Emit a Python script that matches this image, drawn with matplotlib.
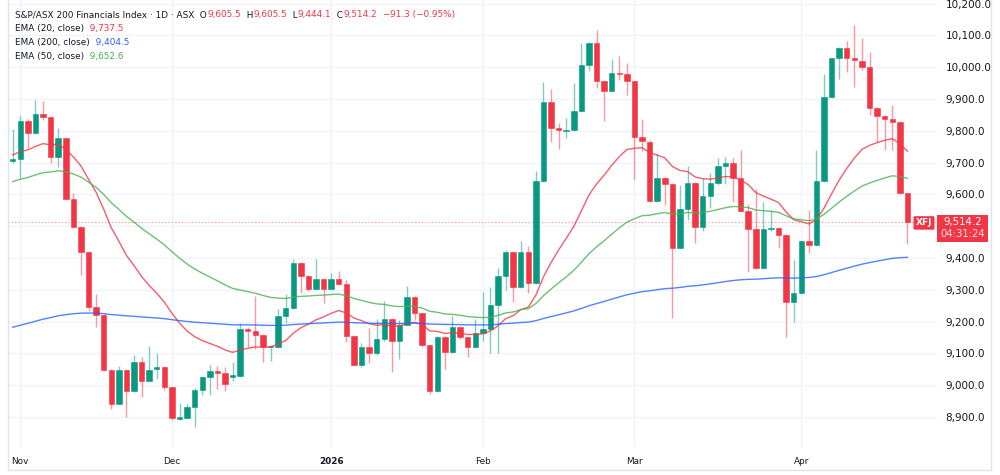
"""S&P/ASX 200 Financials (XFJ) daily candles with 20/50/200 EMAs, TradingView look."""

import matplotlib

matplotlib.use("Agg")
import matplotlib.pyplot as plt
import matplotlib.transforms as mtransforms
from matplotlib.lines import Line2D
from matplotlib.patches import Rectangle
import pandas as pd

UP = "#089981"
DOWN = "#F23645"
TEXT = "#131722"
GRID = "#f0f3fa"
FRAME = "#e0e3eb"

# OHLC, 31 Oct 2025 -> late Apr 2026 (one row per session)
opens = [
    9706, 9711, 9832, 9794, 9853, 9844, 9719, 9776, 9585, 9497,
    9420, 9245, 9222, 9048, 8941, 9048, 8983, 9073, 9014, 9050,
    9058, 8993, 8895, 8897, 8930, 8985, 9025, 9044, 9037, 9027,
    9029, 9178, 9170, 9157, 9119, 9119, 9218, 9243, 9383, 9343,
    9302, 9333, 9302, 9335, 9318, 9155, 9062, 9121, 9102, 9144,
    9207, 9140, 9190, 9278, 9226, 9125, 8981, 9151, 9104, 9182,
    9151, 9121, 9165, 9178, 9252, 9343, 9420, 9308, 9420, 9320,
    9643, 9891, 9808, 9800, 9803, 9863, 10006, 10077, 9958, 9926,
    9983, 9979, 9956, 9780, 9766, 9580, 9652, 9632, 9432, 9555,
    9637, 9496, 9595, 9635, 9689, 9698, 9652, 9547, 9490, 9368,
    9490, 9494, 9472, 9262, 9289, 9453, 9441, 9642, 9907, 10028,
    10059, 10030, 10019, 10001, 9873, 9848, 9837, 9827, 9605.5,
]
highs = [
    9805, 9845, 9838, 9897, 9894, 9848, 9808, 9778, 9603, 9500,
    9422, 9287, 9225, 9050, 9060, 9050, 9094, 9090, 9123, 9102,
    9060, 8995, 8943, 8941, 8990, 9030, 9062, 9060, 9058, 9073,
    9196, 9182, 9280, 9160, 9125, 9239, 9287, 9396, 9386, 9346,
    9396, 9336, 9352, 9358, 9331, 9157, 9132, 9180, 9209, 9266,
    9210, 9205, 9312, 9280, 9228, 9128, 9155, 9155, 9218, 9185,
    9153, 9207, 9293, 9310, 9368, 9425, 9423, 9454, 9437, 9675,
    9954, 9930, 9825, 9839, 9949, 10075, 10080, 10117, 9960, 10025,
    10035, 10012, 9958, 9836, 9770, 9729, 9655, 9635, 9630, 9689,
    9640, 9650, 9668, 9713, 9717, 9715, 9740, 9570, 9616, 9577,
    9551, 9497, 9475, 9394, 9458, 9551, 9740, 9978, 10030, 10062,
    10082, 10133, 10093, 10049, 9876, 9850, 9881, 9830, 9605.5,
]
lows = [
    9700, 9651, 9745, 9790, 9835, 9698, 9687, 9582, 9495, 9346,
    9234, 9184, 9045, 8924, 8940, 8899, 8980, 8962, 9012, 9018,
    8985, 8891, 8890, 8893, 8868, 8968, 8968, 8987, 8983, 9012,
    9027, 9121, 9113, 9073, 9075, 9117, 9196, 9240, 9289, 9295,
    9300, 9257, 9300, 9315, 9136, 9060, 9056, 9069, 9095, 9140,
    9042, 9083, 9188, 9205, 9120, 8972, 8978, 9050, 9100, 9145,
    9088, 9118, 9140, 9100, 9100, 9299, 9263, 9305, 9291, 9318,
    9640, 9766, 9742, 9776, 9800, 9860, 9989, 9934, 9831, 9924,
    9960, 9913, 9645, 9737, 9576, 9576, 9567, 9212, 9430, 9519,
    9448, 9486, 9556, 9630, 9633, 9577, 9545, 9357, 9365, 9365,
    9485, 9430, 9152, 9200, 9286, 9415, 9438, 9640, 9902, 9963,
    9986, 9939, 9990, 9850, 9766, 9740, 9740, 9600, 9444.1,
]
closes = [
    9710, 9832, 9794, 9853, 9844, 9719, 9776, 9585, 9497, 9420,
    9245, 9222, 9048, 8941, 9048, 8983, 9073, 9014, 9048, 9058,
    8993, 8897, 8900, 8930, 8985, 9025, 9045, 9037, 9003, 9031,
    9178, 9170, 9157, 9119, 9123, 9218, 9243, 9383, 9343, 9302,
    9333, 9302, 9333, 9318, 9155, 9062, 9121, 9102, 9144, 9207,
    9140, 9190, 9278, 9226, 9125, 8981, 9151, 9104, 9182, 9151,
    9121, 9165, 9178, 9253, 9343, 9420, 9308, 9420, 9320, 9643,
    9891, 9808, 9803, 9803, 9863, 10006, 10077, 9958, 9926, 9983,
    9979, 9956, 9780, 9767, 9580, 9652, 9632, 9432, 9555, 9637,
    9496, 9595, 9635, 9689, 9698, 9652, 9547, 9490, 9368, 9490,
    9494, 9473, 9262, 9289, 9454, 9441, 9642, 9907, 10028, 10059,
    10028, 10022, 10001, 9873, 9848, 9837, 9827, 9605.5, 9514.2,
]

# first session of each month on the x axis
month_ticks = [1, 21, 42, 62, 82, 104]
month_labels = ["Nov", "Dec", "2026", "Feb", "Mar", "Apr"]
price_levels = list(range(8900, 10201, 100))

# EMA values at the first visible candle (history before it is off-screen)
ema_specs = [
    (20, 9724, "#F23645", "9,737.5"),
    (200, 9182, "#2962FF", "9,404.5"),
    (50, 9640, "#4CAF50", "9,652.6"),
]


def ema(values: list[float], span: int, seed: float) -> pd.Series:
    """TradingView-style EMA of close, starting from a visible seed value."""
    s = pd.Series([seed] + list(values[1:]), dtype=float)
    return s.ewm(span=span, adjust=False).mean()


def draw_row(fig, x_px, y_px, segments, size):
    """Write coloured text pieces one after another on a single line."""
    renderer = fig.canvas.get_renderer()
    x = x_px
    for txt, color in segments:
        t = fig.text(x / W, 1 - y_px / H, txt, color=color, fontsize=size,
                     ha="left", va="center")
        x += t.get_window_extent(renderer).width


W, H = 1000, 475
fig = plt.figure(figsize=(W / 100, H / 100), dpi=100)
fig.patch.set_facecolor("white")

last = closes[-1]

# plot area: x 8..937 px, y 0..447 px
ax = fig.add_axes([8 / W, (H - 447) / H, 929 / W, 447 / H])
ax.set_xlim(-0.62, 121.9)
ax.set_ylim(8805.5, 10211.3)
for sp in ax.spines.values():
    sp.set_visible(False)

# the level hidden behind the last-price badge gets no label
ax.set_yticks(price_levels)
ax.set_yticklabels(["" if abs(v - last) < 60 else f"{v:,.1f}" for v in price_levels])
ax.yaxis.tick_right()
ax.tick_params(axis="y", length=0, pad=6, labelsize=7.5, labelcolor=TEXT)
ax.set_xticks(month_ticks)
ax.set_xticklabels(month_labels)
ax.tick_params(axis="x", length=0, pad=7, labelsize=6.4, labelcolor=TEXT)
for lab in ax.get_xticklabels():
    if lab.get_text().isdigit():
        lab.set_fontweight("bold")
ax.grid(True, color=GRID, lw=1)
ax.set_axisbelow(True)

# candles
xs = list(range(len(closes)))
up = [c >= o for o, c in zip(opens, closes)]
body_col = [UP if u else DOWN for u in up]
ax.vlines(xs, lows, highs, colors=body_col, lw=1, alpha=0.5, zorder=2)
bottoms = [min(o, c) for o, c in zip(opens, closes)]
heights = [max(abs(c - o), 2.5) for o, c in zip(opens, closes)]
ax.bar(xs, heights, bottom=bottoms, width=0.72, color=body_col,
       edgecolor=body_col, lw=0.4, zorder=3)

# EMAs
for span, seed, color, _ in ema_specs:
    ax.plot(xs, ema(closes, span, seed), color=color, lw=1, alpha=0.8, zorder=4)

# last price line and labels
ax.axhline(last, color=DOWN, ls=(0, (1, 2)), lw=0.8, alpha=0.6, zorder=1)
blend = mtransforms.blended_transform_factory(ax.transAxes, ax.transData)
ax.add_patch(Rectangle((1.0, last - 64), 51 / 929, 85, transform=blend,
                       facecolor=DOWN, edgecolor="none", clip_on=False, zorder=10))
ax.text(1.0275, last - 2, f"{last:,.1f}", transform=blend, ha="center",
        va="center", color="white", fontsize=7.3, zorder=11, clip_on=False)
ax.text(1.0275, last - 40, "04:31:24", transform=blend, ha="center",
        va="center", color="white", fontsize=7.3, alpha=0.85, zorder=11,
        clip_on=False)
ax.text(0.986, last - 4, "XFJ", transform=blend, ha="center", va="center",
        color="white", fontsize=6.5, fontweight="bold", zorder=11,
        bbox=dict(boxstyle="round,pad=0.25,rounding_size=0.15",
                  facecolor=DOWN, edgecolor="none"))

# outer frame
for xy in [((8, 8), (0, 470)), ((8, 991), (470, 470)), ((991, 991), (0, 470))]:
    fig.add_artist(Line2D([x / W for x in xy[0]], [1 - y / H for y in xy[1]],
                          color=FRAME, lw=1))

# legend header
draw_row(fig, 15, 15, [
    ("S&P/ASX 200 Financials Index · 1D · ASX", TEXT),
    ("  O", TEXT), (f"{opens[-1]:,.1f}", DOWN),
    ("  H", TEXT), (f"{highs[-1]:,.1f}", DOWN),
    ("  L", TEXT), (f"{lows[-1]:,.1f}", DOWN),
    ("  C", TEXT), (f"{last:,.1f}", DOWN),
    ("  −91.3 (−0.95%)", DOWN),
], 6.4)
for row, (span, _, color, value) in enumerate(ema_specs):
    draw_row(fig, 15, 29 + 14 * row,
             [(f"EMA ({span}, close)", TEXT), ("  " + value, color)], 6.4)

fig.savefig("out.png", dpi=100)
